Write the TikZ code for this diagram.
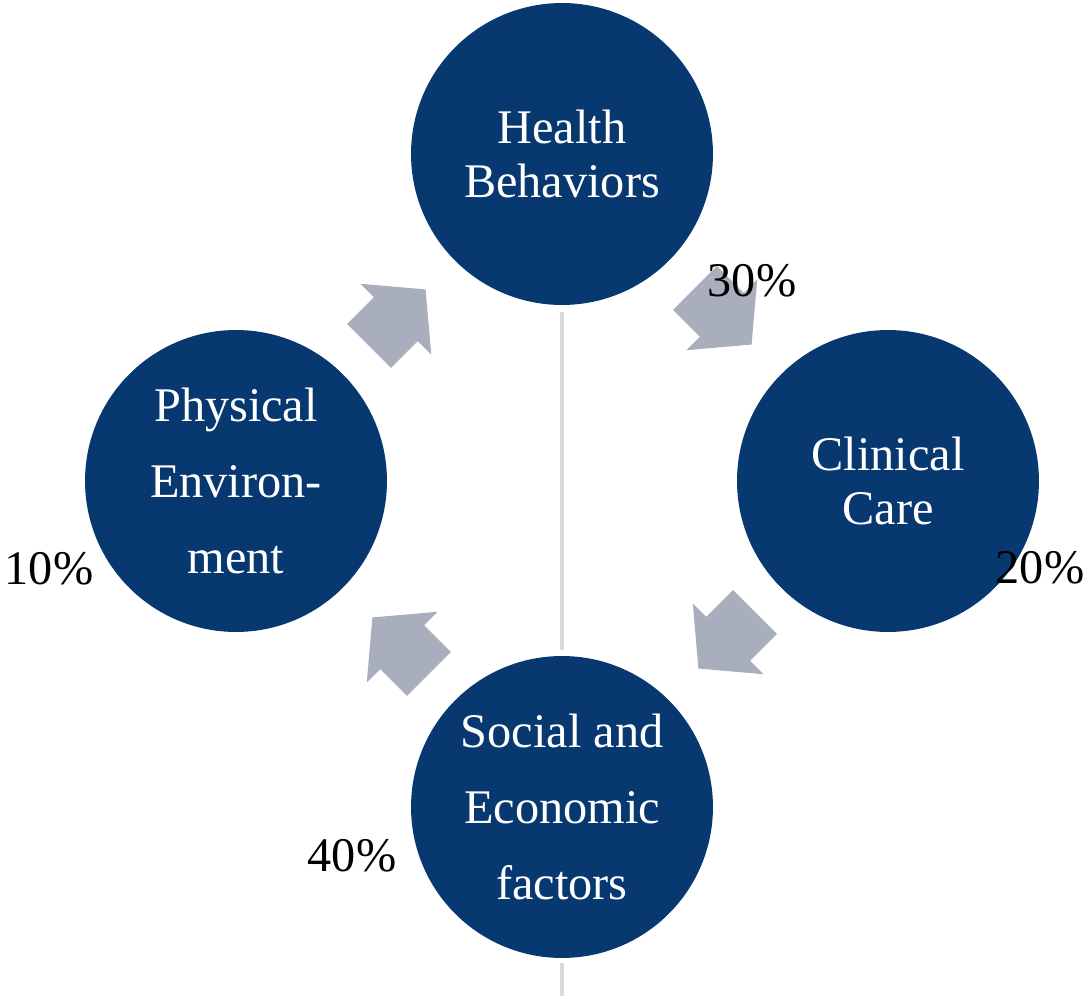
\documentclass[tikz,border=0pt]{standalone}
\usepackage{fontspec}
\setmainfont{Liberation Serif}
\definecolor{navy}{RGB}{7,56,112}
\definecolor{arrowgray}{RGB}{169,174,188}
\definecolor{axisgray}{RGB}{217,217,217}
\tikzset{
  bubble/.style={circle, fill=navy, text=white, minimum size=6.04cm, inner sep=0pt, align=center, font=\fontsize{27.5}{31}\selectfont},
  bubblethree/.style={bubble, font=\fontsize{27.5}{43}\selectfont},
  pct/.style={text=black, inner sep=0pt, font=\fontsize{27.5}{31}\selectfont},
  axisline/.style={draw=axisgray, line width=2.4pt},
  cyclearrow/.style={fill=arrowgray}
}
\begin{document}
\begin{tikzpicture}[x=0.02cm,y=-0.02cm]
\useasboundingbox (0,0) rectangle (1090,996);
% nodes
\node[bubble] (hb) at (562,154) {Health\\Behaviors};
\node[bubble] (cc) at (888,481) {Clinical\\Care};
\node[bubblethree] (pe) at (236,481) {Physical\\Environ-\\ment};
\node[bubblethree] (se) at (562,807) {Social and\\Economic\\factors};
\coordinate (bot) at (562,996);
% axis line
\draw[axisline] ([yshift=-0.14cm]hb.south) -- ([yshift=0.12cm]se.north);
\draw[axisline] ([yshift=-0.1cm]se.south) -- (bot);
% arrows
\foreach \sx/\sy/\ang in {369/346/45, 695/288/-45, 755/612/-135, 429/674/135}{
  \fill[cyclearrow, shift={(\sx,\sy)}, rotate=\ang]
    (0,-31) -- (38,-31) -- (38,-50) -- (80,0) -- (38,50) -- (38,31) -- (0,31) -- cycle;
}
% percentages
\node[pct] (p30) at (752,281) {30\%};
\node[pct] (p20) at (1040,568) {20\%};
\node[pct] (p10) at (49,569) {10\%};
\node[pct] (p40) at (352,856) {40\%};
\end{tikzpicture}
\end{document}
